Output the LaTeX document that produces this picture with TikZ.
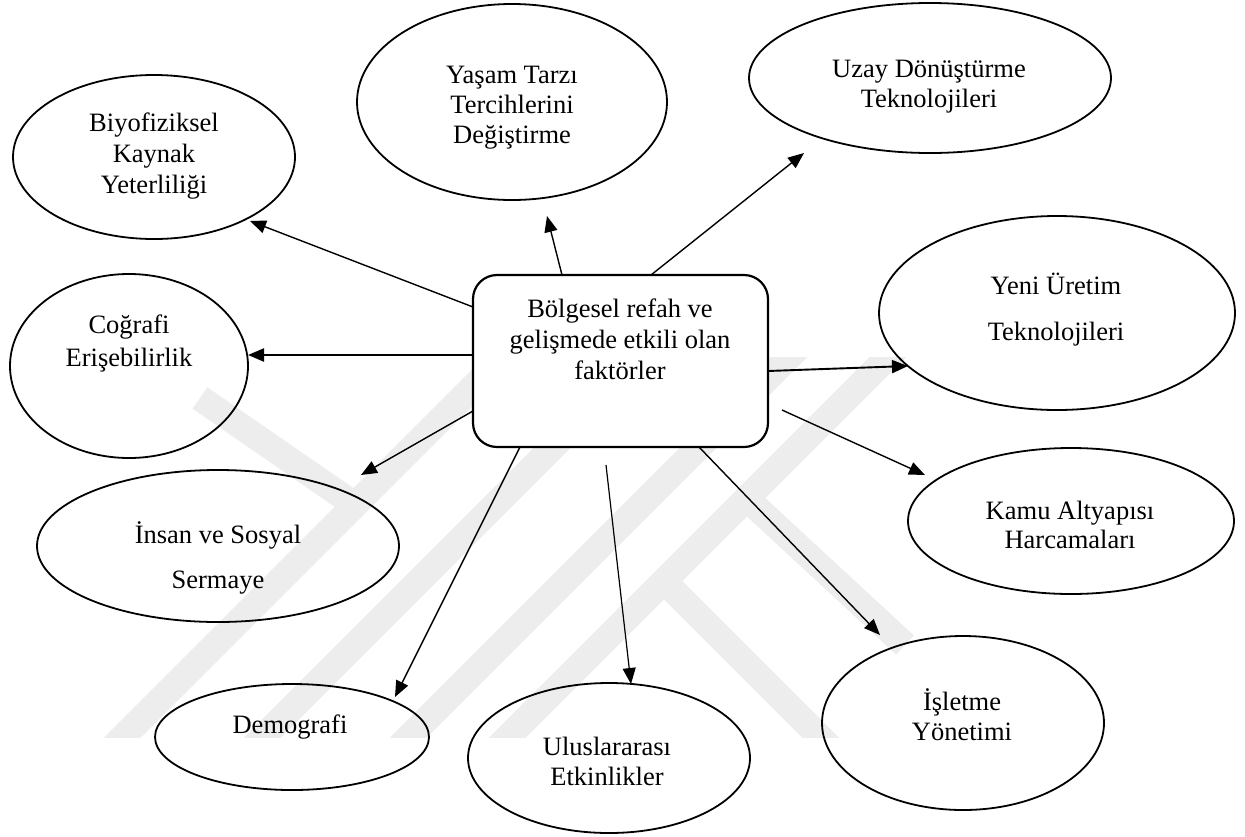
\documentclass[tikz,border=0pt]{standalone}
\usepackage{fontspec}
\setmainfont{Liberation Serif}
\usetikzlibrary{shapes.geometric,arrows.meta}
\newcommand{\ls}{\rule[-7pt]{0pt}{29.5pt}}
\begin{document}
\begin{tikzpicture}[x=1pt,y=-1pt,
  oval/.style={draw, ellipse, line width=1.8pt, inner sep=0pt, outer sep=0pt},
  mainbox/.style={draw, rectangle, rounded corners=24pt, line width=2.2pt, fill=white, inner sep=0pt, outer sep=0pt, minimum width=295pt, minimum height=172pt},
  lbl/.style={align=center, inner sep=0pt, outer sep=0pt, font=\fontsize{26.5}{30}\selectfont},
  arr/.style={line width=1.4pt, -{Triangle[length=16pt,width=13pt]}},
  band/.style={line width=26pt, draw=black!7, line cap=butt}]
\useasboundingbox (0,0) rectangle (1245,836);
\fill[white] (0,0) rectangle (1245,836);
% watermark
\begin{scope}
  \clip (0,357) rectangle (1245,737);
  \draw[band] (103,757) -- (523,337);
  \draw[band] (243,757) -- (663,337);
  \draw[band] (389,757) -- (809,337);
  \draw[band] (488,757) -- (908,337);
  \draw[band] (200,398) -- (355,505);
  \draw[band] (745,497) -- (905,645);
  \draw[band] (665,582) -- (835,752);
\end{scope}
% ellipses
\node[oval, minimum width=282pt, minimum height=164pt] (bio) at (154,157) {};
\node[oval, minimum width=310pt, minimum height=196pt] (yasam) at (512,102) {};
\node[oval, minimum width=362pt, minimum height=150pt] (uzay) at (930,78) {};
\node[oval, minimum width=238pt, minimum height=184pt] (cog) at (129,366) {};
\node[oval, minimum width=356pt, minimum height=194pt] (yeni) at (1057,313) {};
\node[oval, minimum width=326pt, minimum height=146pt] (kamu) at (1071,521) {};
\node[oval, minimum width=362pt, minimum height=152pt] (insan) at (218,546) {};
\node[oval, minimum width=274pt, minimum height=106pt] (demo) at (292,737) {};
\node[oval, minimum width=282pt, minimum height=150pt] (ulus) at (609,758) {};
\node[oval, minimum width=282pt, minimum height=174pt] (islet) at (963,723) {};
% central box
\node[mainbox] (box) at (620.5,361) {};
% labels
\node[lbl] (boxT) at (620,340.25) {\ls Bölgesel refah ve\\[1pt]\ls gelişmede etkili olan\\[1pt]\ls faktörler};
\node[lbl] (bioT) at (154,154.25) {\ls Biyofiziksel\\[1pt]\ls Kaynak\\[1pt]\ls Yeterliliği};
\node[lbl] (yasamT) at (512,105.25) {\ls Yaşam Tarzı\\\ls Tercihlerini\\\ls Değiştirme};
\node[lbl] (uzayT) at (929,84.25) {\ls Uzay Dönüştürme\\\ls Teknolojileri};
\node[lbl] (cogT) at (129,341.75) {\ls Coğrafi\\[3pt]\ls Erişebilirlik};
\node[lbl] (yeniT) at (1056,309.25) {\ls Yeni Üretim\\[16pt]\ls Teknolojileri};
\node[lbl] (kamuT) at (1070,525.75) {\ls Kamu Altyapısı\\[-1pt]\ls Harcamaları};
\node[lbl] (insanT) at (218,557.75) {\ls İnsan ve Sosyal\\[15pt]\ls Sermaye};
\node[lbl] (demoT) at (290,725.25) {\ls Demografi};
\node[lbl] (ulusT) at (607,762.25) {\ls Uluslararası\\\ls Etkinlikler};
\node[lbl] (isletT) at (962,717.25) {\ls İşletme\\\ls Yönetimi};
% connector end points
\coordinate (s1) at (473,307);  \coordinate (t1) at (250,221);
\coordinate (s2) at (562,275);  \coordinate (t2) at (547,216);
\coordinate (s3) at (651,275);  \coordinate (t3) at (804,153);
\coordinate (s4) at (473,355);  \coordinate (t4) at (248,355);
\coordinate (s5) at (768,371);  \coordinate (t5) at (908,366);
\coordinate (s6) at (782,410);  \coordinate (t6) at (925,475);
\coordinate (s7) at (699,447);  \coordinate (t7) at (880,635);
\coordinate (s8) at (606,465);  \coordinate (t8) at (631,684);
\coordinate (s9) at (520,447);  \coordinate (t9) at (395,697);
\coordinate (s10) at (473,411); \coordinate (t10) at (361,475);
% connectors
\draw[arr] (s1) -- (t1);
\draw[arr] (s2) -- (t2);
\draw[arr] (s3) -- (t3);
\draw[arr, line width=2.3pt] (s4) -- (t4);
\draw[arr, line width=1.9pt] (s5) -- (t5);
\draw[arr] (s6) -- (t6);
\draw[arr] (s7) -- (t7);
\draw[arr, line width=1.2pt] (s8) -- (t8);
\draw[arr] (s9) -- (t9);
\draw[arr] (s10) -- (t10);
\end{tikzpicture}
\end{document}
